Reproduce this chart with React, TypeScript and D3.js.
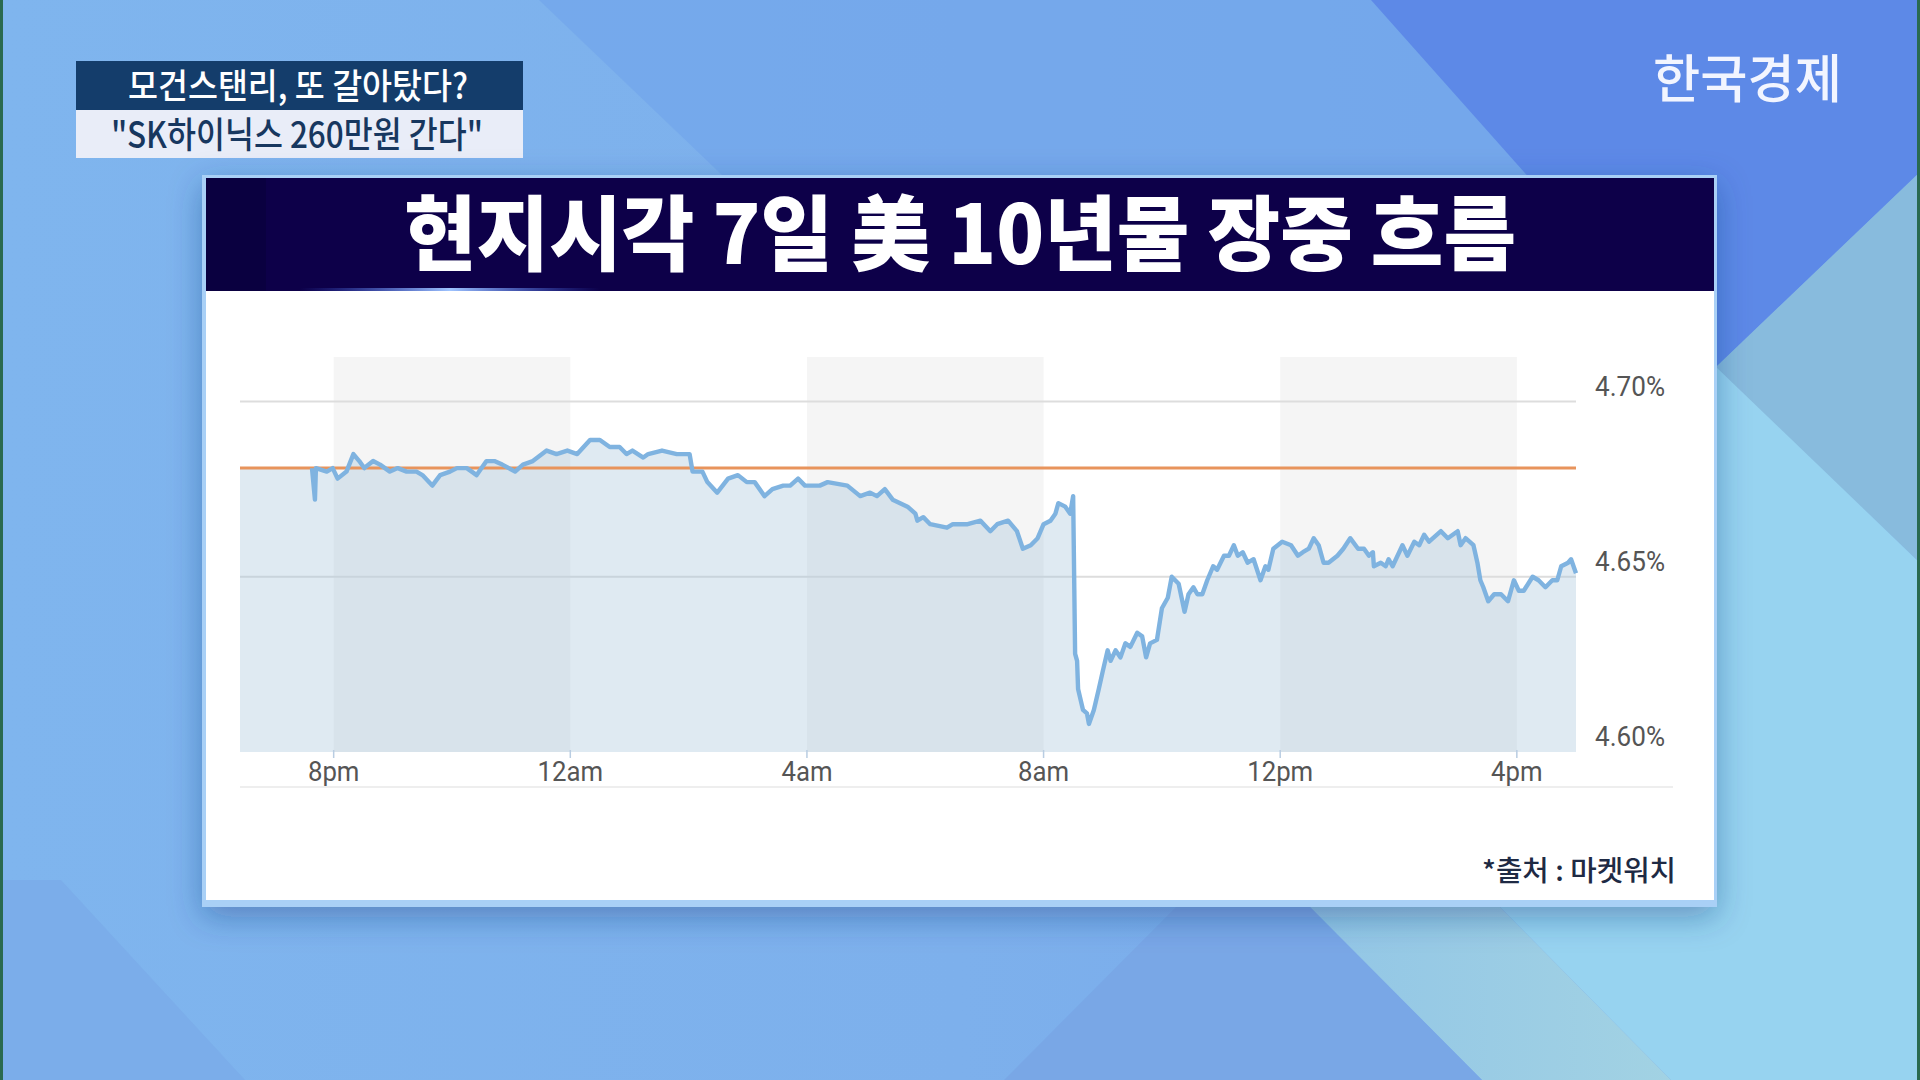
import React, { useMemo } from "react";
import * as d3 from "d3";

// 미 10년물 국채금리, 장중 (ET). 18시 이후는 6일, 그 전은 7일
const times = [
  "19:38", "19:41", "19:42", "19:53", "19:59", "20:04", "20:13", "20:20", "20:26", "20:31",
  "20:40", "20:47", "20:57", "21:05", "21:14", "21:24", "21:30", "21:40", "21:48", "21:58",
  "22:05", "22:15", "22:25", "22:35", "22:43", "22:51", "23:04", "23:12", "23:22", "23:36",
  "23:46", "23:57", "00:07", "00:20", "00:30", "00:40", "00:50", "00:57", "01:03", "01:14",
  "01:19", "01:33", "01:48", "02:01", "02:04", "02:14", "02:19", "02:29", "02:40", "02:50",
  "02:59", "03:07", "03:17", "03:25", "03:36", "03:43", "03:51", "03:58", "04:13", "04:21",
  "04:41", "04:54", "05:04", "05:11", "05:19", "05:27", "05:42", "05:50", "05:52", "05:58",
  "06:05", "06:22", "06:28", "06:43", "06:56", "07:06", "07:13", "07:24", "07:33", "07:39",
  "07:47", "07:54", "08:00", "08:07", "08:12", "08:15", "08:22", "08:27", "08:30", "08:32",
  "08:34", "08:35", "08:40", "08:44", "08:46", "08:51", "08:56", "09:00", "09:05", "09:08",
  "09:13", "09:18", "09:23", "09:28", "09:35", "09:40", "09:44", "09:48", "09:55", "10:00",
  "10:06", "10:10", "10:17", "10:23", "10:27", "10:32", "10:36", "10:41", "10:46", "10:52",
  "10:56", "11:03", "11:08", "11:13", "11:17", "11:22", "11:27", "11:33", "11:40", "11:45",
  "11:48", "11:53", "12:02", "12:11", "12:18", "12:23", "12:29", "12:34", "12:39", "12:44",
  "12:49", "12:58", "13:04", "13:11", "13:19", "13:25", "13:30", "13:34", "13:35", "13:42",
  "13:47", "13:50", "13:54", "14:04", "14:09", "14:16", "14:21", "14:26", "14:31", "14:43",
  "14:50", "15:00", "15:03", "15:08", "15:16", "15:20", "15:23", "15:26", "15:31", "15:37",
  "15:44", "15:51", "15:57", "16:02", "16:07", "16:16", "16:22", "16:29", "16:36", "16:41",
  "16:45", "16:52", "16:55", "17:00",
];

const yields = [
  4.681, 4.672, 4.681, 4.680, 4.681, 4.678, 4.680, 4.685, 4.683, 4.681,
  4.683, 4.682, 4.680, 4.681, 4.680, 4.680, 4.679, 4.676, 4.679, 4.680,
  4.681, 4.681, 4.679, 4.683, 4.683, 4.682, 4.680, 4.682, 4.683, 4.686,
  4.685, 4.686, 4.685, 4.689, 4.689, 4.687, 4.687, 4.685, 4.686, 4.684,
  4.685, 4.686, 4.685, 4.685, 4.680, 4.680, 4.677, 4.674, 4.678, 4.679,
  4.677, 4.677, 4.673, 4.675, 4.676, 4.676, 4.678, 4.676, 4.676, 4.677,
  4.676, 4.673, 4.674, 4.673, 4.675, 4.672, 4.670, 4.668, 4.666, 4.667,
  4.665, 4.664, 4.665, 4.665, 4.666, 4.663, 4.665, 4.666, 4.663, 4.658,
  4.659, 4.661, 4.665, 4.666, 4.668, 4.671, 4.670, 4.668, 4.673, 4.628,
  4.626, 4.618, 4.612, 4.611, 4.608, 4.612, 4.618, 4.623, 4.629, 4.626,
  4.629, 4.627, 4.631, 4.630, 4.634, 4.633, 4.627, 4.631, 4.632, 4.641,
  4.644, 4.650, 4.648, 4.640, 4.645, 4.647, 4.645, 4.645, 4.649, 4.653,
  4.652, 4.656, 4.656, 4.659, 4.656, 4.657, 4.654, 4.655, 4.649, 4.653,
  4.652, 4.658, 4.660, 4.659, 4.656, 4.657, 4.658, 4.661, 4.659, 4.654,
  4.654, 4.656, 4.658, 4.661, 4.658, 4.658, 4.656, 4.657, 4.653, 4.654,
  4.653, 4.655, 4.653, 4.659, 4.656, 4.660, 4.659, 4.662, 4.660, 4.663,
  4.661, 4.663, 4.659, 4.661, 4.659, 4.654, 4.649, 4.647, 4.643, 4.645,
  4.645, 4.643, 4.649, 4.646, 4.646, 4.650, 4.649, 4.647, 4.649, 4.649,
  4.653, 4.654, 4.655, 4.651,
];

const prevClose = 4.681;
const domainTimes = ["18:25", "17:00"];
const xTickTimes = ["20:00", "00:00", "04:00", "08:00", "12:00", "16:00"];
const xTickLabels = ["8pm", "12am", "4am", "8am", "12pm", "4pm"];
const yTicks = [4.6, 4.65, 4.7];
const yDomain = [4.6, 4.7];
// 음영 구간 (8pm-12am, 4am-8am, 12pm-4pm)
const bandStarts = ["20:00", "04:00", "12:00"];
const bandEnds = ["00:00", "08:00", "16:00"];

const captionTop = "모건스탠리, 또 갈아탔다?";
const captionBottom = "\"SK하이닉스 260만원 간다\"";
const chartTitle = "현지시각 7일 美 10년물 장중 흐름";
const sourceText = "*출처 : 마켓워치";
const logoText = "한국경제";

const parseT = (s: string) => {
  const [h, m] = s.split(":").map(Number);
  return new Date(2025, 0, h >= 18 ? 6 : 7, h, m);
};

const KR = "'Noto Sans CJK KR', 'Noto Sans', sans-serif";
const NARROW = "'Liberation Sans Narrow', 'Roboto', sans-serif";

export default function App() {
  const left = 240;
  const right = 1576;
  const top = 357;
  const bottom = 752;

  const x = useMemo(
    () => d3.scaleTime().domain(domainTimes.map(parseT)).range([left, right]),
    []
  );
  const y = useMemo(
    () => d3.scaleLinear().domain(yDomain).range([bottom, 401.5]),
    []
  );

  const points = useMemo(
    () => times.map((t, i) => [parseT(t), yields[i]] as [Date, number]),
    []
  );

  const linePath = useMemo(
    () =>
      d3
        .line<[Date, number]>()
        .x((d) => x(d[0]))
        .y((d) => y(d[1]))(points),
    [x, y, points]
  );

  const areaPath = useMemo(() => {
    const withLead: [Date, number][] = [
      [parseT(domainTimes[0]), prevClose],
      [points[0][0], prevClose],
      ...points,
    ];
    return d3
      .area<[Date, number]>()
      .x((d) => x(d[0]))
      .y0(y(yDomain[0]))
      .y1((d) => y(d[1]))(withLead);
  }, [x, y, points]);

  return (
    <svg
      width={1920}
      height={1080}
      style={{ position: "absolute", top: 0, left: 0 }}
    >
      <defs>
        <linearGradient id="bg" x1="0" y1="0" x2="1" y2="0">
          <stop offset="0" stopColor="#7fb5ee" />
          <stop offset="0.5" stopColor="#7db0ec" />
          <stop offset="1" stopColor="#76a8ea" />
        </linearGradient>
        <linearGradient id="teal" x1="0" y1="0" x2="1" y2="0">
          <stop offset="0" stopColor="#92c6e6" />
          <stop offset="1" stopColor="#a2d2e3" />
        </linearGradient>
        <linearGradient id="glow" x1="0" y1="0" x2="1" y2="0">
          <stop offset="0" stopColor="#3f6cff" stopOpacity="0" />
          <stop offset="0.5" stopColor="#9fc4ff" stopOpacity="1" />
          <stop offset="1" stopColor="#3f6cff" stopOpacity="0" />
        </linearGradient>
        <filter id="shadow" x="-5%" y="-5%" width="110%" height="118%">
          <feDropShadow dx="0" dy="10" stdDeviation="16" floodColor="#1d3f80" floodOpacity="0.4" />
        </filter>
      </defs>

      {/* 배경 */}
      <rect width={1920} height={1080} fill="url(#bg)" />
      <polygon points="539,0 1371,0 1560,200 722,175" fill="#72a5eb" opacity={0.7} />
      <polygon points="1371,0 1920,0 1920,172 1715,368 1540,190" fill="#5d89e7" />
      <polygon points="1715,368 1920,172 1920,563" fill="#88bbdd" />
      <polygon points="1715,366 1920,563 1920,1080 1671,1080 1500,907 1715,907" fill="#97d3f0" />
      <polygon points="1310,907 1500,907 1671,1080 1482,1080" fill="url(#teal)" />
      <polygon points="1176,907 1310,907 1482,1080 1004,1080" fill="#79a7e6" />
      <polygon points="0,880 61,880 245,1080 0,1080" fill="#7badea" />
      <rect x={0} y={0} width={3} height={1080} fill="#2a6a50" />
      <rect x={1917} y={0} width={3} height={1080} fill="#2a6a50" />

      {/* 자막 */}
      <rect x={76} y={61} width={447} height={49} fill="#143d6b" />
      <rect x={76} y={110} width={447} height={48} fill="#e9edf8" />
      <text
        x={298}
        y={99}
        textAnchor="middle"
        fill="#ffffff"
        fontFamily={KR}
        fontWeight={500}
        fontSize={35}
        textLength={340}
        lengthAdjust="spacingAndGlyphs"
      >
        {captionTop}
      </text>
      <text
        x={297}
        y={148}
        textAnchor="middle"
        fill="#17375f"
        fontFamily={KR}
        fontWeight={500}
        fontSize={36}
        textLength={372}
        lengthAdjust="spacingAndGlyphs"
      >
        {captionBottom}
      </text>

      {/* 로고 */}
      <text
        x={1653}
        y={98}
        fill="#f2f5ff"
        fontFamily={KR}
        fontWeight={500}
        fontSize={52}
        textLength={189}
        lengthAdjust="spacingAndGlyphs"
      >
        {logoText}
      </text>

      {/* 패널 */}
      <rect x={202} y={175} width={1515} height={732} fill="#a9d0f6" filter="url(#shadow)" />
      <rect x={206} y={178} width={1508} height={722} fill="#ffffff" />
      <rect x={206} y={178} width={1508} height={113} fill="#0d0049" />
      <rect x={206} y={178} width={60} height={113} fill="#0a0040" />
      <rect x={300} y={288} width={300} height={3} fill="url(#glow)" />
      <text
        x={960}
        y={264}
        textAnchor="middle"
        fill="#ffffff"
        fontFamily={KR}
        fontWeight={900}
        fontSize={82}
        textLength={1112}
        lengthAdjust="spacingAndGlyphs"
      >
        {chartTitle}
      </text>

      {/* 차트 */}
      <g>
        {bandStarts.map((b, i) => (
          <rect
            key={b}
            x={x(parseT(b))}
            y={top}
            width={x(parseT(bandEnds[i])) - x(parseT(b))}
            height={bottom - top}
            fill="#f5f5f5"
          />
        ))}
        {yTicks
          .filter((t) => t > yDomain[0])
          .map((t) => (
            <line
              key={t}
              x1={left}
              x2={right}
              y1={y(t)}
              y2={y(t)}
              stroke="#dddddd"
              strokeWidth={2}
            />
          ))}
        <path d={areaPath ?? ""} fill="#a6c4dc" fillOpacity={0.36} />
        <line
          x1={left}
          x2={right}
          y1={y(prevClose)}
          y2={y(prevClose)}
          stroke="#e8945c"
          strokeWidth={3}
        />
        <path
          d={linePath ?? ""}
          fill="none"
          stroke="#7fb3e0"
          strokeWidth={4.4}
          strokeLinejoin="round"
        />
        {yTicks.map((t) => (
          <text
            key={t}
            x={1595}
            y={y(t) - 6}
            fill="#555555"
            fontFamily={NARROW}
            fontSize={28}
            textLength={70}
            lengthAdjust="spacingAndGlyphs"
          >
            {d3.format(".2f")(t)}%
          </text>
        ))}
        {xTickTimes.map((t, i) => (
          <g key={t} transform={`translate(${x(parseT(t))},0)`}>
            <line y1={bottom - 2} y2={bottom + 6} stroke="#b9cde2" strokeWidth={1.5} />
            <text
              y={781}
              textAnchor="middle"
              fill="#555555"
              fontFamily={NARROW}
              fontSize={28}
              transform="scale(0.92,1)"
            >
              {xTickLabels[i]}
            </text>
          </g>
        ))}
        <line x1={left} x2={1673} y1={787} y2={787} stroke="#eeeeee" strokeWidth={2} />
      </g>

      <text
        x={1676}
        y={881}
        textAnchor="end"
        fill="#1e2a44"
        fontFamily={KR}
        fontWeight={500}
        fontSize={28}
        textLength={194}
        lengthAdjust="spacingAndGlyphs"
      >
        {sourceText}
      </text>
    </svg>
  );
}
